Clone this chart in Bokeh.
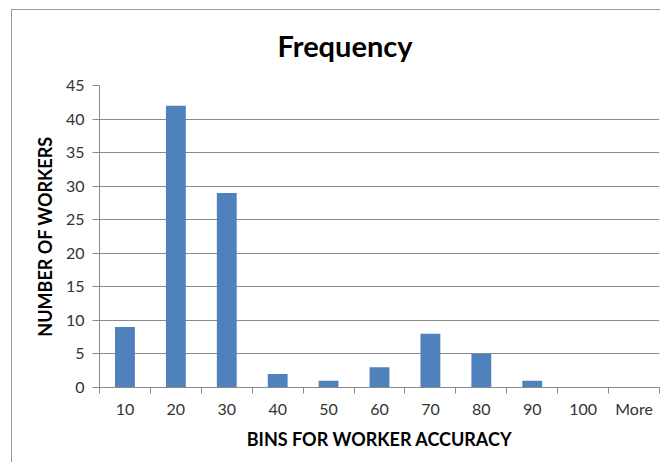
from bokeh.plotting import figure
from bokeh.models import FixedTicker, Range1d, ColumnDataSource
from bokeh.embed import file_html
from bokeh.resources import INLINE

categories = ["10", "20", "30", "40", "50", "60", "70", "80", "90", "100", "More"]
frequency = [9, 42, 29, 2, 1, 3, 8, 5, 1, 0, 0]
y_ticks = [0, 5, 10, 15, 20, 25, 30, 35, 40, 45]

FONT = "Lato"
xpos = [i + 0.5 for i in range(len(categories))]
src = ColumnDataSource(dict(x=xpos, top=frequency, cat=categories))

p = figure(width=660, height=462, output_backend="svg", toolbar_location=None,
           x_range=Range1d(0, len(categories)), y_range=Range1d(0, 45),
           min_border_left=99, min_border_right=1, min_border_top=85, min_border_bottom=75)

p.vbar(x="x", top="top", width=0.39, source=src, fill_color="#4F81BD", line_color=None)

p.title.text = "Frequency"
p.title.align = "left"
p.title.text_font = FONT
p.title.text_font_size = "29px"
p.title.text_font_style = "bold"
p.title.text_color = "#000000"
p.title.offset = 178
p.title.standoff = 46

p.outline_line_color = None
p.background_fill_color = "white"
p.border_fill_color = None

p.xgrid.visible = False
p.ygrid.grid_line_color = "#8a8a8a"
p.ygrid.grid_line_width = 1
p.ygrid.ticker = FixedTicker(ticks=y_ticks)

p.yaxis.ticker = FixedTicker(ticks=y_ticks)
p.yaxis.axis_label = "NUMBER OF WORKERS"
p.yaxis.axis_label_text_font = FONT
p.yaxis.axis_label_text_font_size = "18px"
p.yaxis.axis_label_text_font_style = "bold"
p.yaxis.axis_label_text_color = "#000000"
p.yaxis.axis_label_standoff = 7
p.yaxis.major_label_text_font = FONT
p.yaxis.major_label_text_font_size = "16px"
p.yaxis.major_label_text_color = "#333333"
p.yaxis.major_label_standoff = 8
p.yaxis.major_tick_out = 7
p.yaxis.major_tick_in = 0
p.yaxis.minor_tick_out = 0
p.yaxis.minor_tick_in = 0
p.yaxis.axis_line_color = "#8a8a8a"
p.yaxis.major_tick_line_color = "#8a8a8a"

p.xaxis.ticker = FixedTicker(ticks=xpos, minor_ticks=list(range(len(categories) + 1)))
p.xaxis.major_label_overrides = {x: c for x, c in zip(xpos, categories)}
p.xaxis.axis_label = "BINS FOR WORKER ACCURACY"
p.xaxis.axis_label_text_font = FONT
p.xaxis.axis_label_text_font_size = "18px"
p.xaxis.axis_label_text_font_style = "bold"
p.xaxis.axis_label_text_color = "#000000"
p.xaxis.axis_label_standoff = 7
p.xaxis.major_label_text_font = FONT
p.xaxis.major_label_text_font_size = "16px"
p.xaxis.major_label_text_color = "#333333"
p.xaxis.major_label_standoff = 5
p.xaxis.major_tick_out = 0
p.xaxis.major_tick_in = 0
p.xaxis.minor_tick_out = 6
p.xaxis.minor_tick_in = 0
p.xaxis.axis_line_color = "#8a8a8a"
p.xaxis.minor_tick_line_color = "#8a8a8a"

p.styles = {
    "background-color": "white",
    "background-image": "linear-gradient(#9a9a9a, #9a9a9a), linear-gradient(#9a9a9a, #9a9a9a)",
    "background-position": "11px 9px, 11px 9px",
    "background-size": "1px 100%, 100% 1px",
    "background-repeat": "no-repeat, no-repeat",
}

open("out.html", "w").write(file_html(p, INLINE))
